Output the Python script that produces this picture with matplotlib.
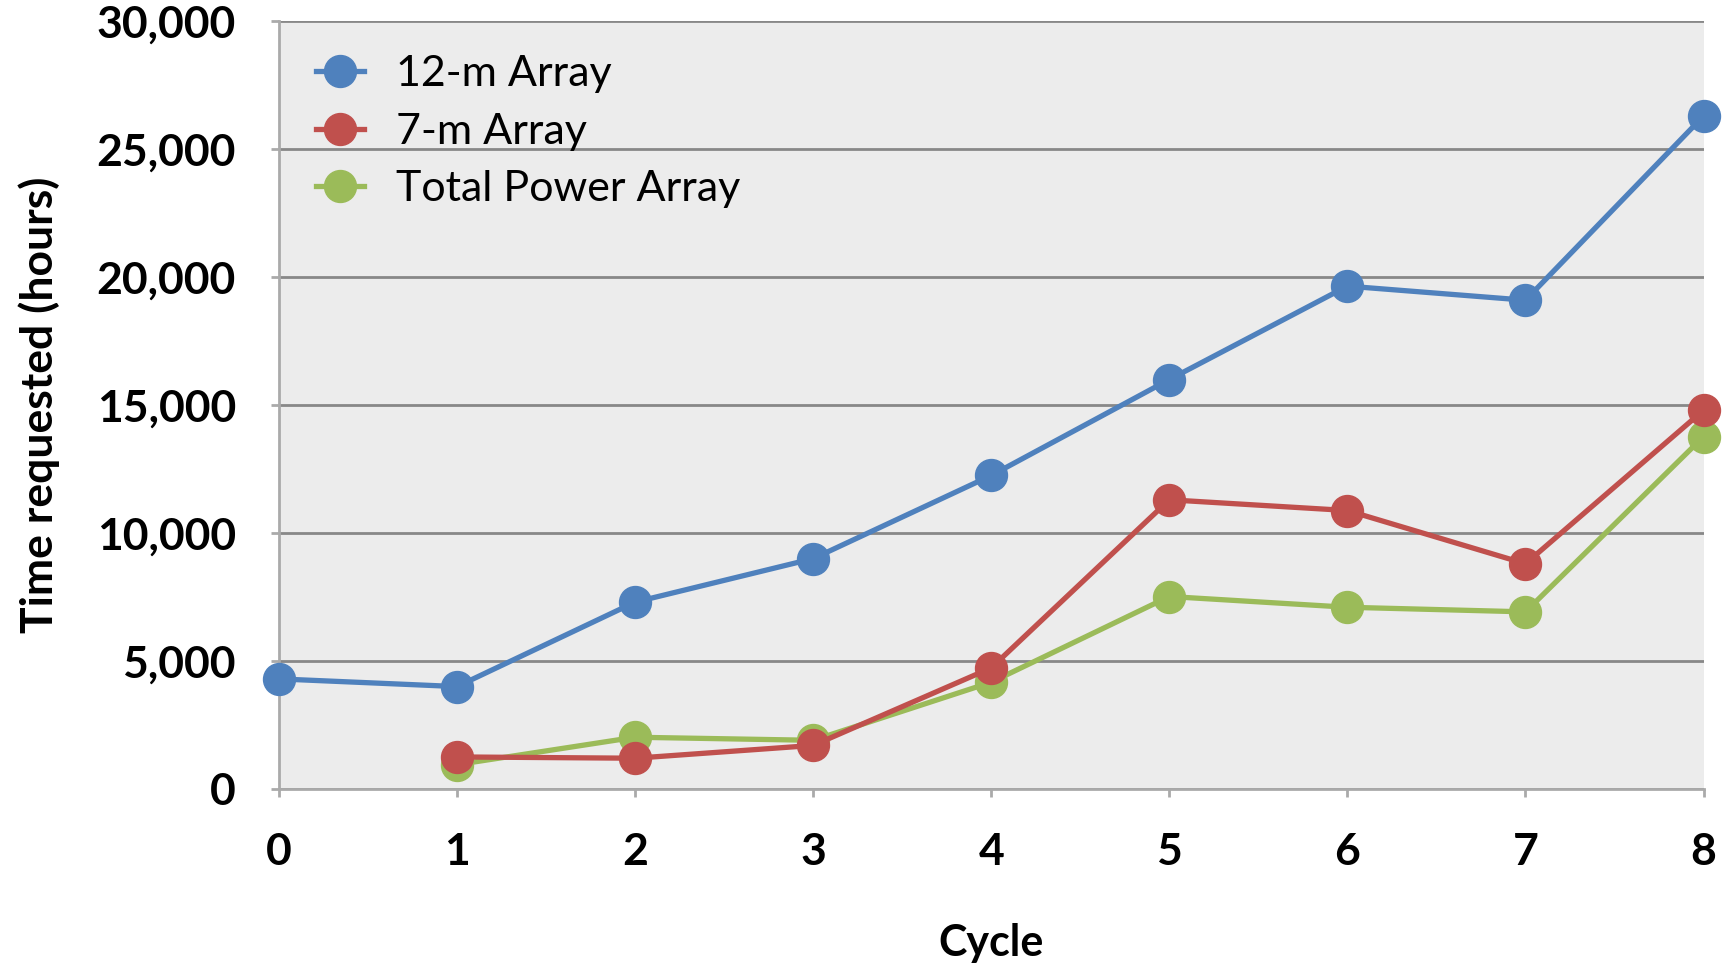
import matplotlib
matplotlib.use("Agg")
import matplotlib.pyplot as plt
from matplotlib.ticker import FuncFormatter

plt.rcParams['font.family'] = ['Lato', 'DejaVu Sans']

cycles_12m = [0, 1, 2, 3, 4, 5, 6, 7, 8]
hours_12m = [4300, 4000, 7300, 9000, 12250, 16000, 19650, 19100, 26300]
cycles_7m = [1, 2, 3, 4, 5, 6, 7, 8]
hours_7m = [1250, 1200, 1700, 4730, 11300, 10880, 8800, 14800]
cycles_tp = [1, 2, 3, 4, 5, 6, 7, 8]
hours_tp = [950, 2020, 1900, 4170, 7520, 7100, 6920, 13770]

labels = ['12-m Array', '7-m Array', 'Total Power Array']
colors = ['#4F81BD', '#C0504D', '#9BBB59']

fig = plt.figure(figsize=(17.26, 9.68), dpi=100)
ax = fig.add_axes([0.1616, 0.185, 0.987 - 0.1616, 0.978 - 0.185])
ax.set_facecolor('#ECECEC')

series = [(cycles_12m, hours_12m), (cycles_7m, hours_7m), (cycles_tp, hours_tp)]
# green first so red/blue sit on top like the original
for i in [2, 1, 0]:
    x, y = series[i]
    ax.plot(x, y, color=colors[i], lw=3.8, marker='o', markersize=23,
            label=labels[i], clip_on=False, zorder=3 + (2 - i))

ax.set_xlim(0, 8)
ax.set_ylim(0, 30000)
ax.set_xticks(range(0, 9))
ax.set_yticks(range(0, 30001, 5000))
ax.yaxis.set_major_formatter(FuncFormatter(lambda v, p: f'{int(v):,}'))
ax.grid(axis='y', color='#888888', lw=2)
ax.set_axisbelow(True)

for s in ['top', 'right']:
    ax.spines[s].set_visible(False)
ax.spines['left'].set_color('#AAAAAA')
ax.spines['bottom'].set_color('#AAAAAA')
ax.spines['left'].set_linewidth(2)
ax.spines['bottom'].set_linewidth(2)

ax.tick_params(axis='both', colors='#AAAAAA', width=2, length=6, labelcolor='black',
               labelsize=32, pad=25)
for lab in ax.get_xticklabels() + ax.get_yticklabels():
    lab.set_fontweight('bold')

ax.set_xlabel('Cycle', fontsize=31, fontweight='bold', labelpad=37)
ax.set_ylabel('Time requested (hours)', fontsize=32, fontweight='bold', labelpad=26)

handles, labs = ax.get_legend_handles_labels()
order = [2, 1, 0]
leg = ax.legend([handles[k] for k in order], [labs[k] for k in order],
                loc='upper left', frameon=False, fontsize=31, handlelength=1.1,
                handletextpad=0.75, labelspacing=0.45, borderaxespad=0.3,
                bbox_to_anchor=(0.005, 0.995))

fig.savefig('out.png', dpi=100)
